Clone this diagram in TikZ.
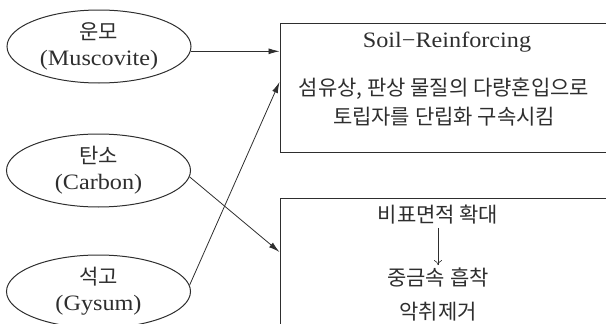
\documentclass[tikz,border=0pt]{standalone}
\usepackage{fontspec}
\setmainfont{Liberation Serif}[FakeStretch=1.1]
\newfontfamily\kr{Noto Sans CJK KR}
\usetikzlibrary{arrows.meta,shapes.geometric}
\definecolor{ink}{HTML}{2E2E2E}
\newcommand\krtext[1]{{\kr\fontsize{21}{26}\selectfont #1}}
\begin{document}
\begin{tikzpicture}[x=1pt,y=-1pt,
 src/.style={ellipse,draw=ink,line width=1pt,minimum width=184pt,minimum height=73pt,inner sep=0pt,align=center,text=ink,font=\fontsize{22}{26}\selectfont},
 box/.style={rectangle,draw=ink,line width=1pt,inner sep=0pt},
 lbl/.style={text=ink,inner sep=0pt,font=\fontsize{22}{24}\selectfont},
 klbl/.style={text=ink,inner sep=0pt,align=center,font=\kr\fontsize{21}{29}\selectfont},
 arr/.style={draw=ink,line width=0.8pt,-{Latex[length=11pt,width=6pt]}},
 thinarr/.style={draw=ink,line width=0.6pt,-{To[length=5pt,width=8pt]},shorten <=3pt,shorten >=3pt}]
\useasboundingbox (0,0) rectangle (606,324);
\clip (0,0) rectangle (606,324);
\node[src] (mus) at (99,46.5) {\krtext{운모}\\(Muscovite)};
\node[src] (car) at (98.5,170.5) {\krtext{탄소}\\(Carbon)};
\node[src] (gys) at (98.5,291.5) {\krtext{석고}\\(Gysum)};
\node[box,minimum width=340pt,minimum height=129pt] (top) at (450,87.5) {};
\node[box,minimum width=340pt,minimum height=150pt] (bot) at (450,273) {};
\node[lbl] (soil) at (447,42) {Soil−Reinforcing};
\node[klbl] (desc) at (444,102.5) {섬유상, 판상 물질의 다량혼입으로\\토립자를 단립화 구속시킴};
\node[klbl] (b1) at (438,215) {비표면적 확대};
\node[klbl] (b2) at (438,278) {중금속 흡착};
\node[klbl] (b3) at (438,312) {악취제거};
\draw[thinarr] (b1) -- (b2);
\draw[arr] (mus.-3.5) -- (mus.-3.5 -| top.west);
\draw[arr] (gys.4) -- ([yshift=5.5pt]top.west);
\draw[arr] (car.-4) -- ([yshift=21pt]bot.west);
\end{tikzpicture}
\end{document}
